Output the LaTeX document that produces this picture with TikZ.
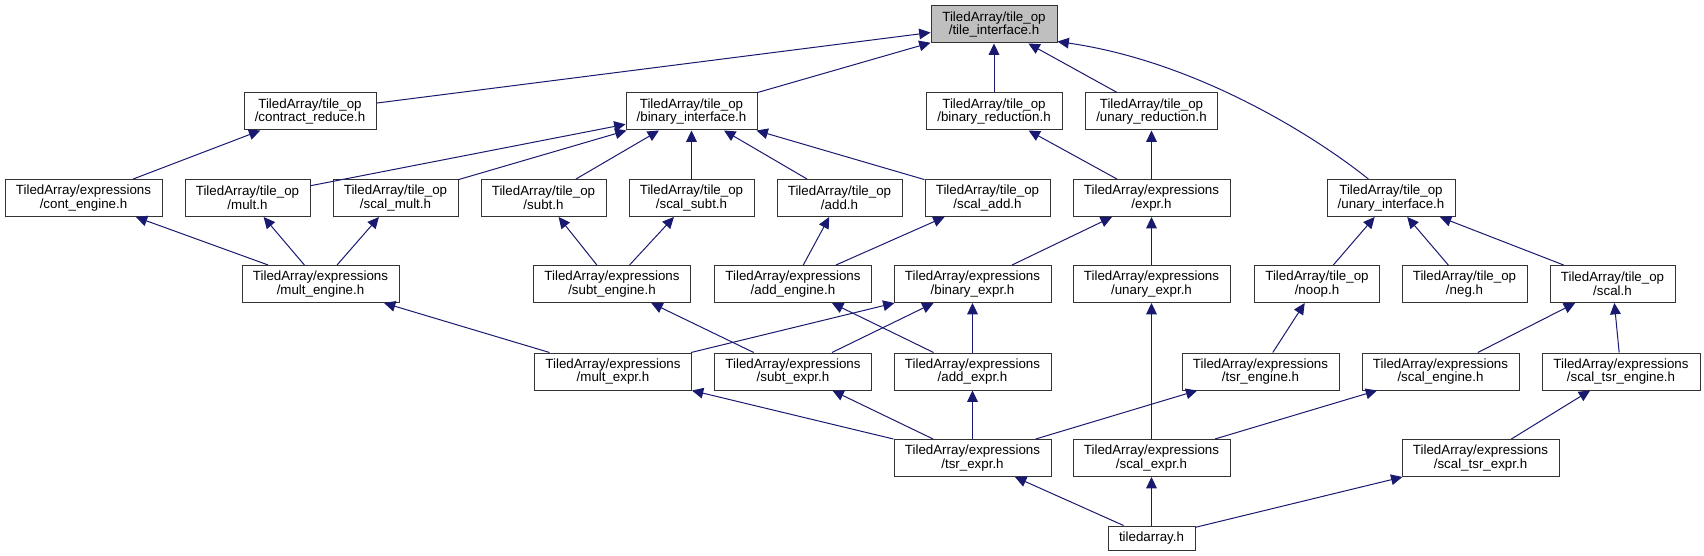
\documentclass[tikz,border=0pt]{standalone}
\usepackage{fontspec}
\setmainfont{Liberation Sans}
\usetikzlibrary{arrows.meta}
\definecolor{navyedge}{HTML}{191970}
\definecolor{boxline}{HTML}{333333}
\definecolor{rootfill}{HTML}{BFBFBF}
\tikzset{
  hdr/.style={draw=boxline, line width=0.75pt, rectangle, inner sep=0pt,
    minimum height=27.75pt, align=center, text=black,
    font=\fontsize{10}{9}\selectfont},
  dep/.style={draw=navyedge, line width=0.75pt,
    -{Triangle[length=8.5pt,width=8pt]}},
}
\begin{document}
\begin{tikzpicture}[x=0.75pt,y=-0.75pt]
\useasboundingbox (0,0) rectangle (1704,556);
% row 1
\node[hdr, fill=rootfill, minimum width=94.5pt] (ti) at (994,24.5) {TiledArray/tile\_op\\/tile\_interface.h};
% row 2
\node[hdr, minimum width=99pt] (cr) at (310,111.5) {TiledArray/tile\_op\\/contract\_reduce.h};
\node[hdr, minimum width=98.25pt] (bi) at (691.5,111.5) {TiledArray/tile\_op\\/binary\_interface.h};
\node[hdr, minimum width=102pt] (br) at (994,111.5) {TiledArray/tile\_op\\/binary\_reduction.h};
\node[hdr, minimum width=99pt] (ur) at (1151.5,111.5) {TiledArray/tile\_op\\/unary\_reduction.h};
% row 3
\node[hdr, minimum width=117.75pt] (ce) at (83.5,198) {TiledArray/expressions\\/cont\_engine.h};
\node[hdr, minimum width=93.75pt] (mu) at (247.5,198) {TiledArray/tile\_op\\/mult.h};
\node[hdr, minimum width=93.75pt] (sm) at (395.5,198) {TiledArray/tile\_op\\/scal\_mult.h};
\node[hdr, minimum width=93.75pt] (su) at (543.5,198) {TiledArray/tile\_op\\/subt.h};
\node[hdr, minimum width=93.75pt] (ss) at (691.5,198) {TiledArray/tile\_op\\/scal\_subt.h};
\node[hdr, minimum width=93.75pt] (ad) at (839.5,198) {TiledArray/tile\_op\\/add.h};
\node[hdr, minimum width=93.75pt] (sa) at (987.5,198) {TiledArray/tile\_op\\/scal\_add.h};
\node[hdr, minimum width=117.75pt] (ex) at (1151.5,198) {TiledArray/expressions\\/expr.h};
\node[hdr, minimum width=96pt] (ui) at (1391,198) {TiledArray/tile\_op\\/unary\_interface.h};
% row 4
\node[hdr, minimum width=117.75pt] (me) at (320.5,284) {TiledArray/expressions\\/mult\_engine.h};
\node[hdr, minimum width=117.75pt] (se) at (612,284) {TiledArray/expressions\\/subt\_engine.h};
\node[hdr, minimum width=117.75pt] (ae) at (793,284) {TiledArray/expressions\\/add\_engine.h};
\node[hdr, minimum width=117.75pt] (be) at (972.5,284) {TiledArray/expressions\\/binary\_expr.h};
\node[hdr, minimum width=117.75pt] (ue) at (1151.5,284) {TiledArray/expressions\\/unary\_expr.h};
\node[hdr, minimum width=93.75pt] (no) at (1317,284) {TiledArray/tile\_op\\/noop.h};
\node[hdr, minimum width=93.75pt] (ne) at (1464.5,284) {TiledArray/tile\_op\\/neg.h};
\node[hdr, minimum width=93.75pt] (sc) at (1612.5,284) {TiledArray/tile\_op\\/scal.h};
% row 5
\node[hdr, minimum width=117.75pt] (mx) at (613,371.5) {TiledArray/expressions\\/mult\_expr.h};
\node[hdr, minimum width=117.75pt] (sx) at (793,371.5) {TiledArray/expressions\\/subt\_expr.h};
\node[hdr, minimum width=117.75pt] (ax) at (972.5,371.5) {TiledArray/expressions\\/add\_expr.h};
\node[hdr, minimum width=117.75pt] (te) at (1260.5,371.5) {TiledArray/expressions\\/tsr\_engine.h};
\node[hdr, minimum width=117.75pt] (sce) at (1440.5,371.5) {TiledArray/expressions\\/scal\_engine.h};
\node[hdr, minimum width=118.5pt] (ste) at (1621,371.5) {TiledArray/expressions\\/scal\_tsr\_engine.h};
% row 6
\node[hdr, minimum width=117.75pt] (tx) at (972.5,458) {TiledArray/expressions\\/tsr\_expr.h};
\node[hdr, minimum width=117.75pt] (scx) at (1151.5,458) {TiledArray/expressions\\/scal\_expr.h};
\node[hdr, minimum width=117.75pt] (stx) at (1480.5,458) {TiledArray/expressions\\/scal\_tsr\_expr.h};
% row 7
\node[hdr, minimum width=65.25pt, minimum height=18pt] (ta) at (1151.5,538) {tiledarray.h};
% edges
\draw[dep] (cr) -- (ti);
\draw[dep] (bi) -- (ti);
\draw[dep] (br) -- (ti);
\draw[dep] (ur) -- (ti);
\draw[dep] (ui.140) .. controls (1320,140) and (1200,62) .. (ti.-15);
\draw[dep] (ce) -- (cr);
\draw[dep] (mu) -- (bi);
\draw[dep] (sm) -- (bi);
\draw[dep] (su) -- (bi);
\draw[dep] (ss) -- (bi);
\draw[dep] (ad) -- (bi);
\draw[dep] (sa) -- (bi);
\draw[dep] (ex) -- (br);
\draw[dep] (ex) -- (ur);
\draw[dep] (me) -- (ce);
\draw[dep] (me) -- (mu);
\draw[dep] (me) -- (sm);
\draw[dep] (se) -- (su);
\draw[dep] (se) -- (ss);
\draw[dep] (ae) -- (ad);
\draw[dep] (ae) -- (sa);
\draw[dep] (be) -- (ex);
\draw[dep] (ue) -- (ex);
\draw[dep] (no) -- (ui);
\draw[dep] (ne) -- (ui);
\draw[dep] (sc) -- (ui);
\draw[dep] (mx) -- (me);
\draw[dep] (mx) -- (be);
\draw[dep] (sx) -- (se);
\draw[dep] (sx) -- (be);
\draw[dep] (ax) -- (ae);
\draw[dep] (ax) -- (be);
\draw[dep] (te) -- (no);
\draw[dep] (sce) -- (sc);
\draw[dep] (ste) -- (sc);
\draw[dep] (tx) -- (mx);
\draw[dep] (tx) -- (sx);
\draw[dep] (tx) -- (ax);
\draw[dep] (tx) -- (te);
\draw[dep] (scx) -- (ue);
\draw[dep] (scx) -- (sce);
\draw[dep] (stx) -- (ste);
\draw[dep] (ta) -- (tx);
\draw[dep] (ta) -- (scx);
\draw[dep] (ta) -- (stx);
\end{tikzpicture}
\end{document}
